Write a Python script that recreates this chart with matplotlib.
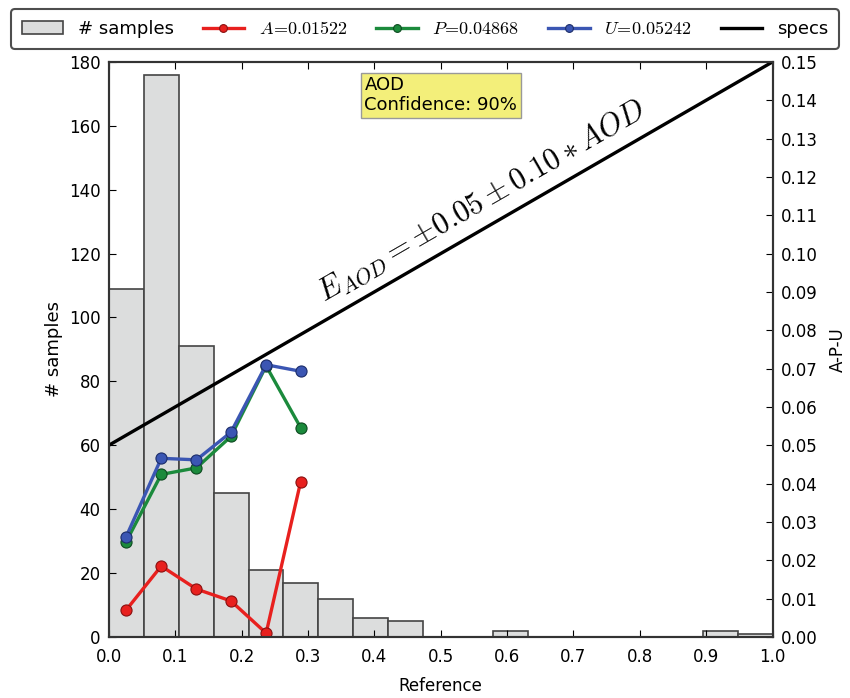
import matplotlib
matplotlib.use("Agg")
import matplotlib.pyplot as plt
import numpy as np

# data
bin_edges = np.linspace(0.0, 1.0, 20)
counts = [109, 176, 91, 45, 21, 17, 12, 6, 5, 0, 0, 2, 0, 0, 0, 0, 0, 2, 1]
centers = [0.026, 0.079, 0.132, 0.184, 0.237, 0.289]
A_vals = [0.0070, 0.0185, 0.0125, 0.0094, 0.0010, 0.0405]
P_vals = [0.0248, 0.0424, 0.0441, 0.0523, 0.0707, 0.0546]
U_vals = [0.0261, 0.0466, 0.0462, 0.0534, 0.0710, 0.0693]
spec_x = [0.0, 1.0]
spec_y = [0.05, 0.15]
labels = ["# samples", r"$A\!=\!0.01522$", r"$P\!=\!0.04868$", r"$U\!=\!0.05242$", "specs"]

plt.rcParams['mathtext.fontset'] = 'cm'
plt.rcParams['font.family'] = 'DejaVu Sans'

fig = plt.figure(figsize=(8.5, 6.98), dpi=100)
ax = fig.add_axes([0.128, 0.0874, 0.781, 0.824])
ax2 = ax.twinx()

bars = ax.bar(bin_edges[:-1], counts, width=np.diff(bin_edges), align='edge',
              color='#dcdddd', edgecolor='#444444', linewidth=1.2, label=labels[0])
ax.set_xlim(0, 1)
ax.set_ylim(0, 180)
ax.set_yticks(np.arange(0, 181, 20))
ax.set_xticks(np.arange(0, 1.01, 0.1))
ax.set_xticklabels([f"{v:.1f}" for v in np.arange(0, 1.01, 0.1)])
ax.set_xlabel("Reference", fontsize=12, labelpad=8)
ax.set_ylabel("# samples", fontsize=13)

ms = 8
lA, = ax2.plot(centers, A_vals, '-o', color='#e8201e', lw=2.4, ms=ms, mec='#8a1010', mew=0.8, label=labels[1])
lP, = ax2.plot(centers, P_vals, '-o', color='#1b8a3c', lw=2.4, ms=ms, mec='#0d4a20', mew=0.8, label=labels[2])
lU, = ax2.plot(centers, U_vals, '-o', color='#3b56b3', lw=2.4, ms=ms, mec='#1c2d6a', mew=0.8, label=labels[3])
lS, = ax2.plot(spec_x, spec_y, '-', color='black', lw=2.4, label=labels[4])
ax2.set_ylim(0, 0.15)
ax2.set_yticks(np.arange(0, 0.151, 0.01))
ax2.set_yticklabels([f"{v:.2f}" for v in np.arange(0, 0.151, 0.01)])
ax2.set_ylabel("A-P-U", fontsize=12, labelpad=8)
ax2.set_xlim(0, 1)

for a in (ax, ax2):
    for s in a.spines.values():
        s.set_linewidth(1.5)
        s.set_color('#333333')
    a.tick_params(direction='in', labelsize=12, length=5)
ax.tick_params(axis='x', top=True, pad=8)
ax.tick_params(axis='y', right=False, pad=6)
ax2.tick_params(axis='y', pad=6)

ax2.text(0.562, 0.1135, r"$E_{AOD} = \pm0.05 \pm 0.10 * AOD$", rotation=30,
         fontsize=22, ha='center', va='center', rotation_mode='anchor')

ax.text(0.385, 0.975, "AOD\nConfidence: 90%", transform=ax.transAxes, fontsize=13,
        va='top', ha='left', linespacing=1.15,
        bbox=dict(boxstyle='square,pad=0.2', facecolor='#f3ef7a', edgecolor='#999999'))

leg = fig.legend([bars, lA, lP, lU, lS], labels, loc='upper center', ncol=5,
                 bbox_to_anchor=(0.5, 1.0), fontsize=13, frameon=True, fancybox=True,
                 edgecolor='#222222', handlelength=2.3, columnspacing=1.6,
                 borderpad=0.6, markerscale=0.7)
leg.get_frame().set_linewidth(1.5)

fig.savefig("out.png", dpi=100)
